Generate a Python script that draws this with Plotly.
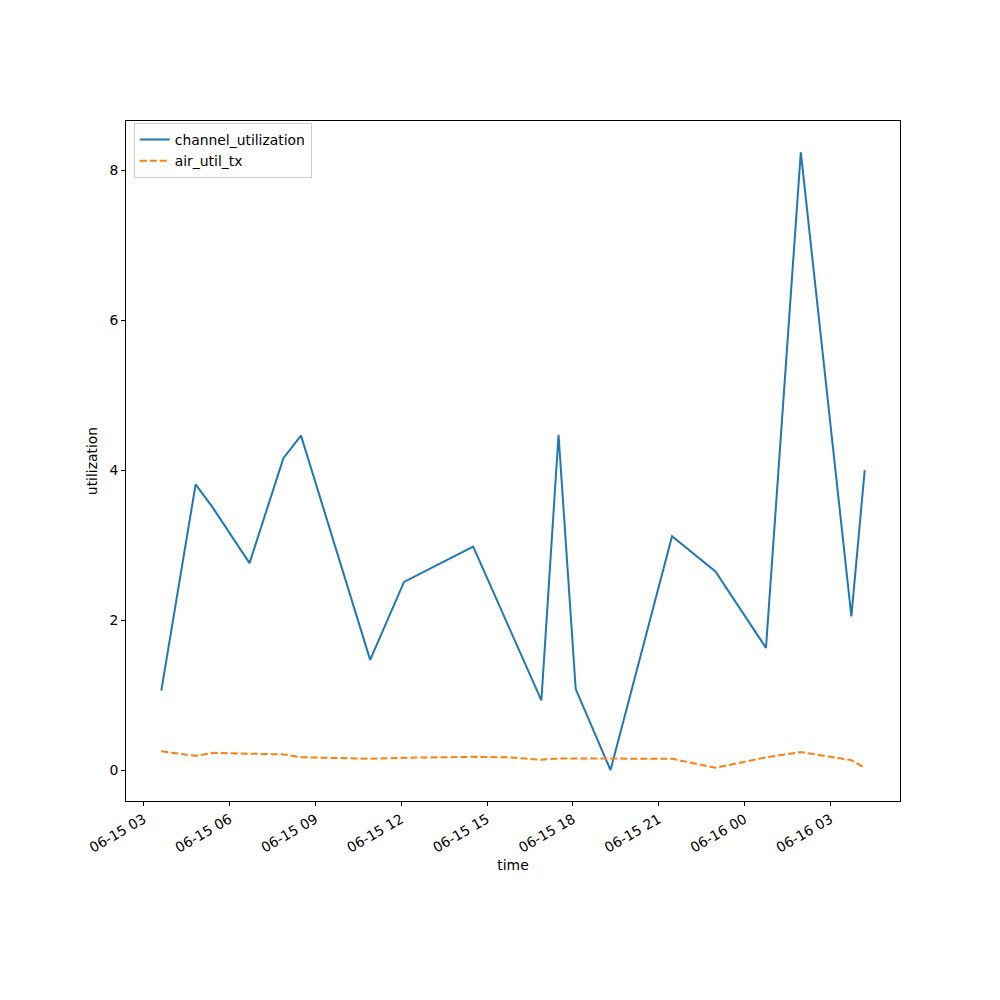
import plotly.graph_objects as go

times = [
    "2024-06-15 03:37", "2024-06-15 04:49", "2024-06-15 05:25", "2024-06-15 06:42",
    "2024-06-15 07:53", "2024-06-15 08:30", "2024-06-15 10:55", "2024-06-15 12:06",
    "2024-06-15 14:31", "2024-06-15 15:46", "2024-06-15 16:54", "2024-06-15 17:30",
    "2024-06-15 18:06", "2024-06-15 19:19", "2024-06-15 21:28", "2024-06-15 22:59",
    "2024-06-16 00:45", "2024-06-16 01:58", "2024-06-16 03:44", "2024-06-16 04:12",
]
channel_utilization = [1.06, 3.81, 3.50, 2.76, 4.16, 4.46, 1.47, 2.51, 2.98, 1.90,
                       0.93, 4.47, 1.08, 0.00, 3.12, 2.65, 1.63, 8.24, 2.05, 4.00]
air_util_tx = [0.25, 0.19, 0.23, 0.217, 0.209, 0.172, 0.151, 0.164, 0.177, 0.17,
               0.137, 0.156, 0.156, 0.156, 0.151, 0.031, 0.169, 0.24, 0.133, 0.031]

font = dict(family="DejaVu Sans", size=13.9, color="black")

fig = go.Figure()
fig.add_trace(go.Scatter(x=times, y=channel_utilization, mode="lines",
                         name="channel_utilization",
                         line=dict(color="#1f77b4", width=2)))
fig.add_trace(go.Scatter(x=times, y=air_util_tx, mode="lines",
                         name="air_util_tx",
                         line=dict(color="#ff7f0e", width=2, dash="7px,3px")))

fig.update_layout(
    width=1000, height=1000,
    margin=dict(l=118, r=108, t=113, b=207),
    paper_bgcolor="white", plot_bgcolor="white",
    font=font,
    showlegend=True,
    legend=dict(x=0.01, y=0.997, xanchor="left", yanchor="top",
                bordercolor="#cccccc", borderwidth=1, bgcolor="rgba(255,255,255,0.8)",
                font=dict(family="DejaVu Sans", size=13.9), tracegroupgap=0,
                itemwidth=30),
)
fig.update_xaxes(
    type="date",
    range=["2024-06-15 02:23", "2024-06-16 05:26"],
    tick0="2024-06-15 03:00", dtick=3 * 3600 * 1000,
    tickformat="%m-%d %H", tickangle=-30,
    ticks="outside", ticklen=4, tickcolor="black",
    showline=True, linecolor="black", linewidth=1, mirror=True,
    showgrid=False, zeroline=False,
    title=dict(text="time", font=font, standoff=5),
)
fig.update_yaxes(
    range=[-0.412, 8.656],
    tickvals=[0, 2, 4, 6, 8],
    ticks="outside", ticklen=4, tickcolor="black",
    showline=True, linecolor="black", linewidth=1, mirror=True,
    showgrid=False, zeroline=False,
    title=dict(text="utilization", font=font, standoff=8),
)

fig.write_html("out.html")
